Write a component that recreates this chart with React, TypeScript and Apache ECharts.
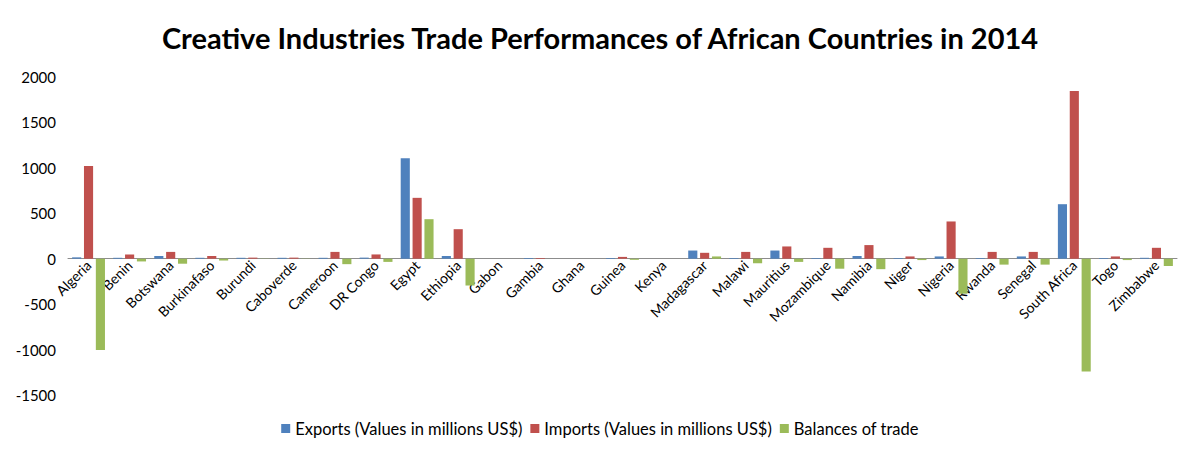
import React, { useEffect, useRef } from "react";
import * as echarts from "echarts";

const categories = [
  "Algeria", "Benin", "Botswana", "Burkinafaso", "Burundi", "Caboverde", "Cameroon", "DR Congo",
  "Egypt", "Ethiopia", "Gabon", "Gambia", "Ghana", "Guinea", "Kenya", "Madagascar", "Malawi",
  "Mauritius", "Mozambique", "Namibia", "Niger", "Nigeria", "Rwanda", "Senegal", "South Africa",
  "Togo", "Zimbabwe",
];
const exportsValues = [15, 10, 30, 10, 10, 10, 10, 12, 1105, 30, 0, 8, 0, 8, 0, 90, 8, 90, 8, 30, 8, 25, 8, 25, 600, 8, 10];
const importsValues = [1020, 47, 75, 30, 12, 12, 75, 47, 670, 325, 0, 8, 0, 20, 0, 65, 75, 135, 120, 150, 25, 410, 75, 75, 1845, 25, 120];
const balanceValues = [-1005, -30, -55, -20, -2, -2, -60, -35, 435, -295, 0, 0, 0, -12, 0, 25, -50, -35, -110, -115, -15, -385, -65, -65, -1240, -15, -80];
const seriesNames = [
  "Exports (Values in millions US$)",
  "Imports (Values in millions US$)",
  "Balances of trade",
];
const yTicks = { min: -1500, max: 2000, interval: 500 };

const FONT = "Lato, 'Open Sans', sans-serif";
const GRID_TOP = 77;
const GRID_BOTTOM = 67;
const HEIGHT = 462;

export default function App() {
  const ref = useRef<HTMLDivElement>(null);
  useEffect(() => {
    if (!ref.current) return;
    const chart = echarts.init(ref.current, undefined, { renderer: "svg" });
    const colors = ["#4F81BD", "#C0504D", "#9BBB59"];
    const values = [exportsValues, importsValues, balanceValues];
    const plotH = HEIGHT - GRID_TOP - GRID_BOTTOM;
    const zeroFromBottom = (plotH * (0 - yTicks.min)) / (yTicks.max - yTicks.min);
    chart.setOption({
      animation: false,
      backgroundColor: "#ffffff",
      title: {
        text: "Creative Industries Trade Performances of African Countries in 2014",
        left: "center",
        top: 18,
        textStyle: { fontFamily: FONT, fontSize: 29, fontWeight: "bold", color: "#000" },
      },
      legend: {
        bottom: 20,
        left: "center",
        itemWidth: 9,
        itemHeight: 9,
        itemGap: 8,
        icon: "rect",
        textStyle: { fontFamily: FONT, fontSize: 16.5, color: "#000" },
        data: seriesNames,
      },
      grid: { left: 68, right: 23, top: GRID_TOP, bottom: GRID_BOTTOM, containLabel: false },
      xAxis: {
        type: "category",
        data: categories,
        position: "bottom",
        offset: -zeroFromBottom,
        axisLine: { onZero: false, lineStyle: { color: "#8c8c8c", width: 1 } },
        axisTick: { show: false },
        axisLabel: {
          rotate: 45,
          interval: 0,
          fontFamily: FONT,
          fontSize: 14,
          color: "#000",
          margin: 4,
        },
      },
      yAxis: {
        type: "value",
        min: yTicks.min,
        max: yTicks.max,
        interval: yTicks.interval,
        axisLine: { show: false },
        axisTick: { show: false },
        splitLine: { show: false },
        axisLabel: {
          fontFamily: FONT,
          fontSize: 15,
          color: "#000",
          margin: 12,
          formatter: (v: number) => String(v),
        },
      },
      series: seriesNames.map((name, i) => ({
        name,
        type: "bar",
        data: values[i],
        barGap: "30%",
        barCategoryGap: "20%",
        itemStyle: { color: colors[i] },
      })),
    });
    return () => chart.dispose();
  }, []);
  return (
    <div style={{ position: "relative", width: 1200, height: 462, margin: -8 }}>
      <div ref={ref} style={{ position: "absolute", left: 0, top: 0, width: 1200, height: 462 }} />
      <div
        style={{
          position: "absolute",
          left: 0,
          top: 0,
          width: 1199,
          height: 460,
          boxSizing: "border-box",
          border: "2px solid #a6a6a6",
          pointerEvents: "none",
        }}
      />
    </div>
  );
}
